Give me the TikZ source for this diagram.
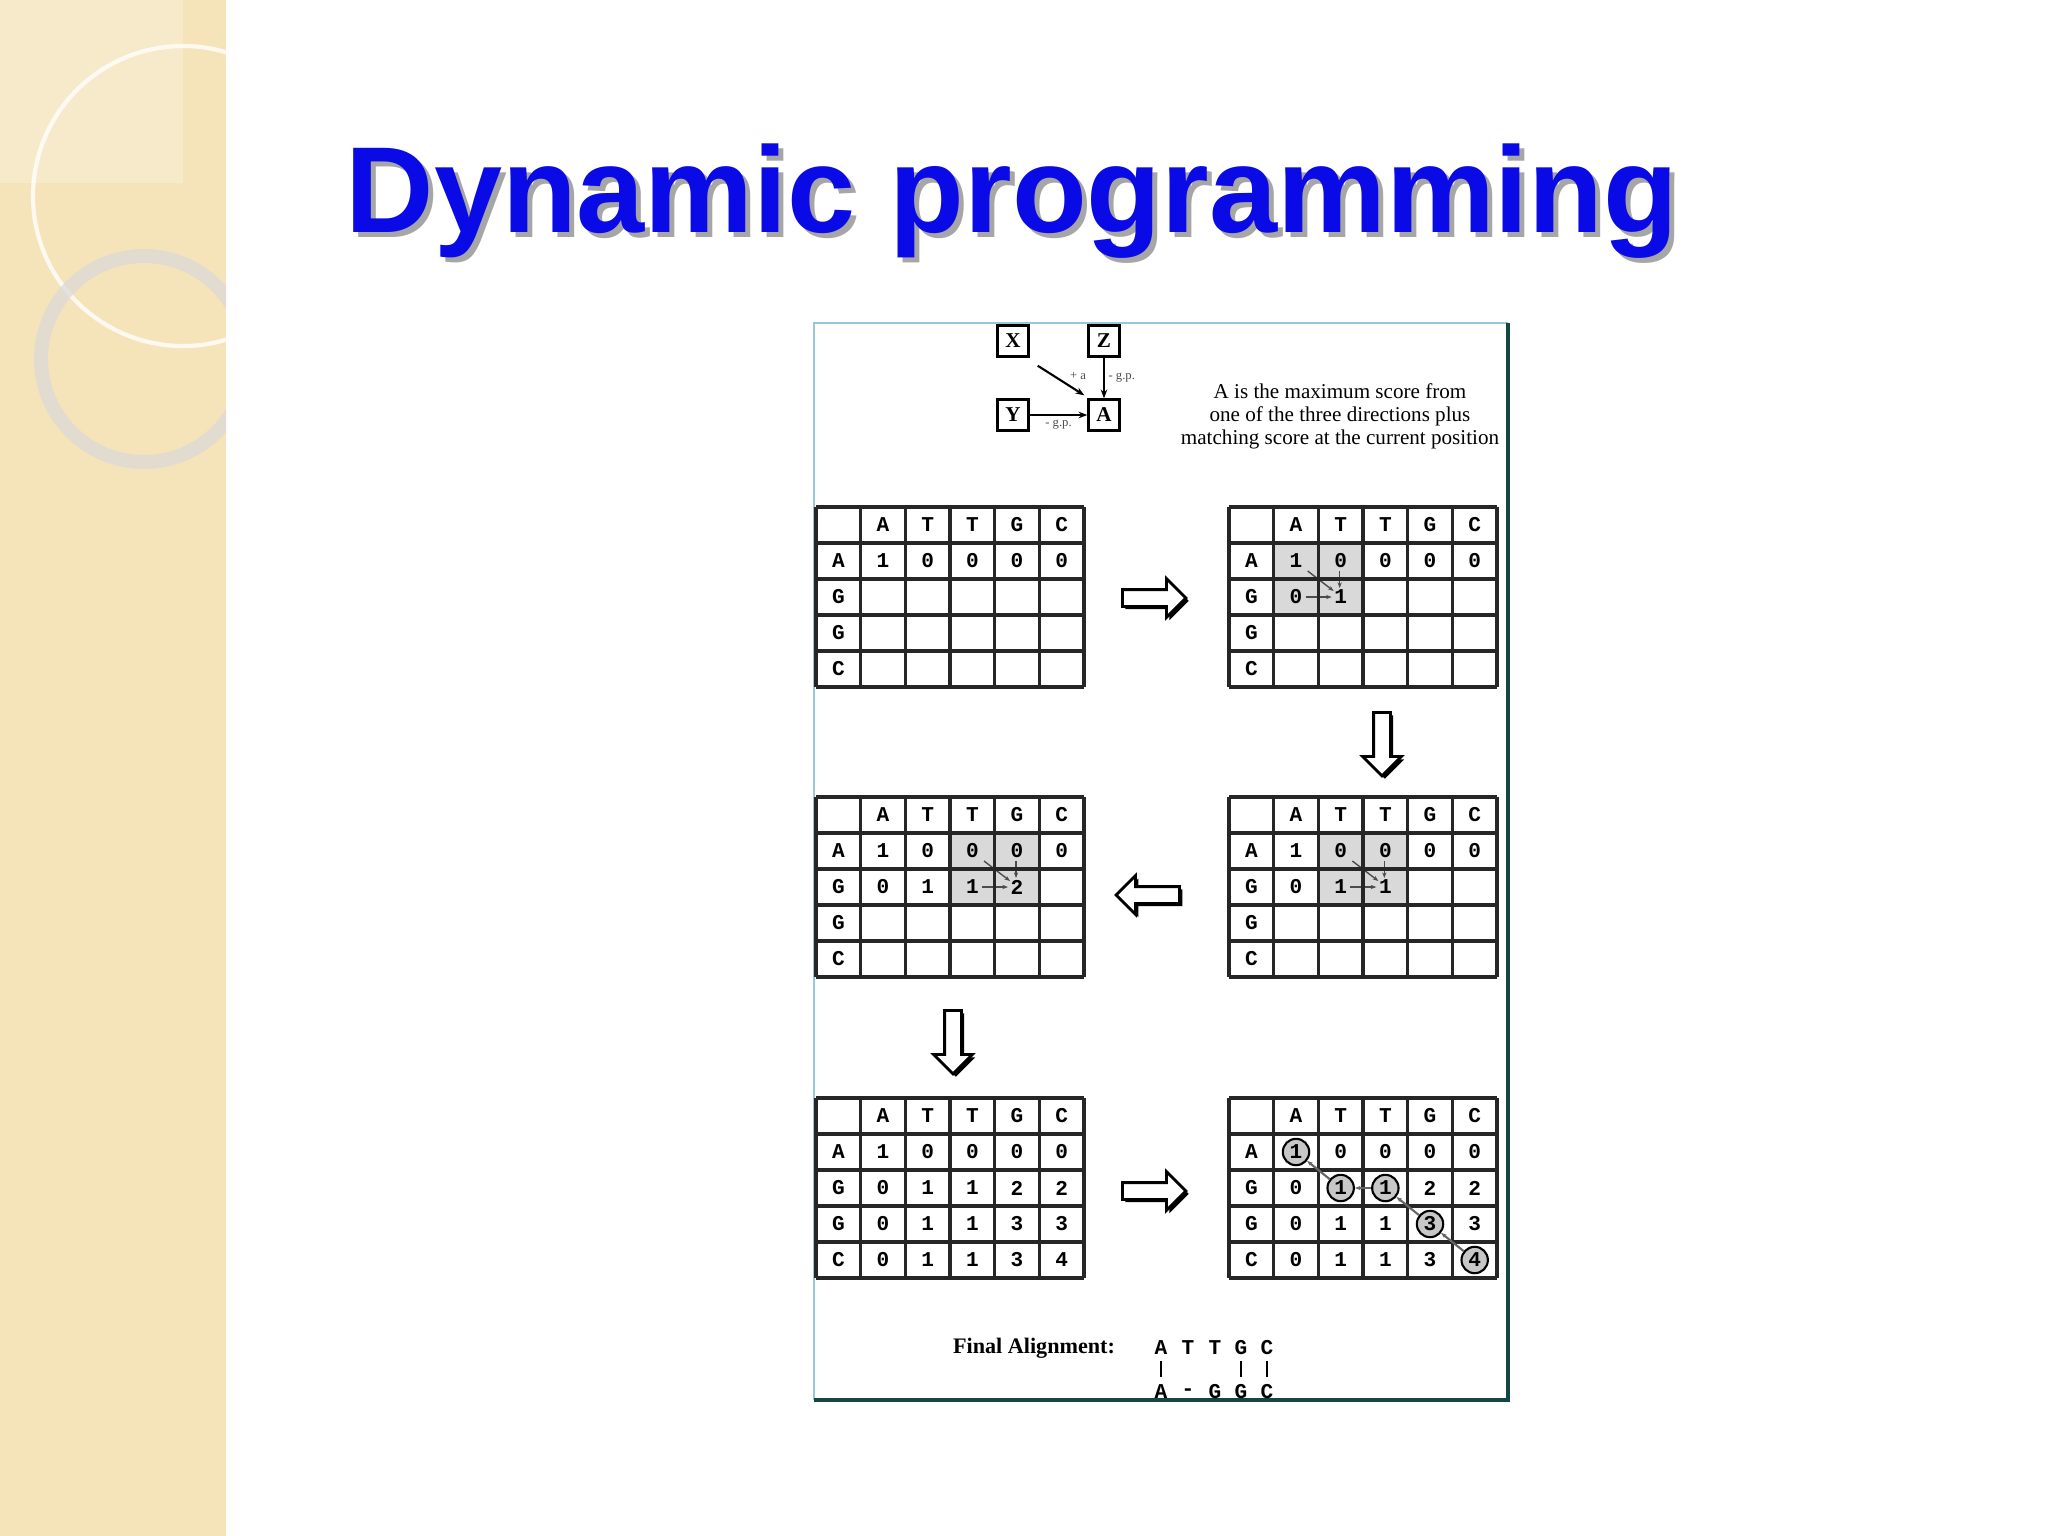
\documentclass[tikz,border=0pt]{standalone}
\usepackage{fontspec}
\setmainfont{Liberation Serif}
\newfontfamily\titlefont{Liberation Sans}
\newfontfamily\cellfont{Liberation Mono}
\usetikzlibrary{shapes.arrows,shadows,arrows.meta}
\definecolor{stripe}{RGB}{245,228,186}
\definecolor{titleblue}{RGB}{10,10,230}
\definecolor{framel}{RGB}{150,200,215}
\definecolor{framed}{RGB}{20,70,70}
\tikzset{
 gridline/.style={line width=0.9pt,black!85},
 cell/.style={font=\cellfont\bfseries\fontsize{6}{7}\selectfont,inner sep=0pt},
 shadecell/.style={fill=black!15},
 blockarrow/.style={single arrow,draw=black,line width=0.8pt,fill=white,minimum height=18pt,minimum width=11pt,single arrow head extend=2.6pt,inner sep=1.6pt,
   drop shadow={shadow xshift=0.8pt,shadow yshift=-0.8pt,fill=black,opacity=1}},
 lbox/.style={draw,line width=0.7pt,minimum size=8.8pt,inner sep=0pt,font=\bfseries\fontsize{6}{7}\selectfont},
 lab/.style={font=\fontsize{3.6}{4}\selectfont,inner sep=1pt,text=black!70},
 small/.style={-{Stealth[length=2.5pt]},line width=0.6pt},
 tiny/.style={-{Stealth[length=1.6pt]},line width=0.4pt,black!70},
 ring/.style={circle,draw,line width=0.6pt,fill=black!22,minimum size=7.5pt,inner sep=0pt,font=\cellfont\bfseries\fontsize{6}{7}\selectfont},
}
\newcommand\dpgrid[2]{%
 \foreach \i in {0,...,6} \draw[gridline] ({#1+44.67*\i},#2) -- ++(0,180);
 \foreach \j in {0,...,5} \draw[gridline] (#1,{#2+36*\j}) -- ++(268,0);
 \foreach \l [count=\c] in {A,T,T,G,C} \node[cell] at ({#1+44.67*\c+22.33},{#2+18}) {\l};
 \foreach \l [count=\r] in {A,G,G,C} \node[cell] at ({#1+22.33},{#2+36*\r+18}) {\l};
}
\newcommand\dprow[4]{% ox oy row list
 \foreach \v [count=\c] in {#4} \node[cell] at ({#1+44.67*\c+22.33},{#2+36*#3+18}) {\v};
}
\newcommand\dpshade[3]{% ox oy firstcol
 \fill[shadecell] ({#1+44.67*#3},{#2+36}) rectangle ++(89.33,72);
 \draw[tiny] ({#1+44.67*#3+34},{#2+36+28}) -- ({#1+44.67*#3+60},{#2+36+48});
 \draw[tiny] ({#1+44.67*#3+66},{#2+36+28}) -- ({#1+44.67*#3+66},{#2+36+45});
 \draw[tiny] ({#1+44.67*#3+32},{#2+36+54}) -- ({#1+44.67*#3+58},{#2+36+54});
}
\begin{document}
\begin{tikzpicture}[x=0.01cm,y=-0.01cm]
\useasboundingbox (0,0) rectangle (2048,1536);
\fill[white] (0,0) rectangle (2048,1536);
% left stripe
\fill[stripe] (0,0) rectangle (226,1536);
\begin{scope}
\clip (0,0) rectangle (226,1536);
\fill[white,opacity=0.25] (0,0) rectangle (183,183);
\draw[white,opacity=0.8,line width=1.2pt] (183,196) circle (150);
\draw[white!85!black,opacity=0.7,line width=4pt] (144,359) circle (103);
\end{scope}
% title
\node[anchor=base west,font=\titlefont\bfseries\fontsize{34.8}{40}\selectfont,text=black!35,inner sep=0pt] at (350,237) {Dynamic programming};
\node[anchor=base west,font=\titlefont\bfseries\fontsize{34.8}{40}\selectfont,text=titleblue,inner sep=0pt] (title) at (345,232) {Dynamic programming};
% frame
\draw[framel,line width=0.8pt] (814,1400) -- (814,323) -- (1508,323);
\draw[framed,line width=1.3pt] (1508,323) -- (1508,1400) -- (814,1400);
% XYZA
\node[lbox] (X) at (1013,341) {X};
\node[lbox] (Z) at (1104,341) {Z};
\node[lbox] (Y) at (1013,415) {Y};
\node[lbox] (A) at (1104,415) {A};
\draw[small] ([shift={(8,8)}]X.south east) -- ([shift={(-3,-3)}]A.north west);
\draw[small] (Z) -- (A) node[lab,midway,right] {- g.p.};
\draw[small] (Y) -- (A) node[lab,midway,below] {- g.p.};
\node[lab] at (1078,376) {+ a};
\node[align=center,font=\fontsize{6}{6.5}\selectfont,inner sep=0pt] (desc) at (1340,416) {A is the maximum score from\\one of the three directions plus\\matching score at the current position};
% table 1
\dpgrid{816}{507}
\dprow{816}{507}{1}{1,0,0,0,0}
% table 2
\dpshade{1229}{507}{1}
\dpgrid{1229}{507}
\dprow{1229}{507}{1}{1,0,0,0,0}
\dprow{1229}{507}{2}{0,1}
% table 3
\dpshade{816}{797}{3}
\dpgrid{816}{797}
\dprow{816}{797}{1}{1,0,0,0,0}
\dprow{816}{797}{2}{0,1,1,2}
% table 4
\dpshade{1229}{797}{2}
\dpgrid{1229}{797}
\dprow{1229}{797}{1}{1,0,0,0,0}
\dprow{1229}{797}{2}{0,1,1}
% table 5
\dpgrid{816}{1098}
\dprow{816}{1098}{1}{1,0,0,0,0}
\dprow{816}{1098}{2}{0,1,1,2,2}
\dprow{816}{1098}{3}{0,1,1,3,3}
\dprow{816}{1098}{4}{0,1,1,3,4}
% table 6
\dpgrid{1229}{1098}
\dprow{1229}{1098}{1}{,0,0,0,0}
\dprow{1229}{1098}{2}{0,,,2,2}
\dprow{1229}{1098}{3}{0,1,1,,3}
\dprow{1229}{1098}{4}{0,1,1,3,}
\node[ring] (c1) at ({1229+44.67*1+22.33},{1098+36*1+18}) {1};
\node[ring] (c2) at ({1229+44.67*2+22.33},{1098+36*2+18}) {1};
\node[ring] (c3) at ({1229+44.67*3+22.33},{1098+36*2+18}) {1};
\node[ring] (c4) at ({1229+44.67*4+22.33},{1098+36*3+18}) {3};
\node[ring] (c5) at ({1229+44.67*5+22.33},{1098+36*4+18}) {4};
\draw[tiny,black!60,line width=0.6pt] (c5) -- (c4);
\draw[tiny,black!60,line width=0.6pt] (c4) -- (c3);
\draw[tiny,black!60,line width=0.6pt] (c3) -- (c2);
\draw[tiny,black!60,line width=0.6pt] (c2) -- (c1);
% block arrows
\node[blockarrow] (a1) at (1150,598) {};
\node[blockarrow,shape border rotate=270] (a2) at (1382,740) {};
\node[blockarrow,shape border rotate=180] (a3) at (1152,895) {};
\node[blockarrow,shape border rotate=270] (a4) at (953,1038) {};
\node[blockarrow] (a5) at (1150,1191) {};
% final alignment
\node[font=\bfseries\fontsize{6.3}{7}\selectfont] (fa) at (1034,1348) {Final Alignment:};
\foreach \l/\x [count=\k] in {A/1161,T/1188,T/1215,G/1241,C/1267} \node[cell] (t\k) at (\x,1348) {\l};
\foreach \l/\x [count=\k] in {A/1161,-/1188,G/1215,G/1241,C/1267} \node[cell] (b\k) at (\x,1392) {\l};
\foreach \k in {1,4,5} \draw[line width=0.6pt] (t\k.center) ++(0,13) -- ([yshift=2pt]b\k.north);
\end{tikzpicture}
\end{document}
